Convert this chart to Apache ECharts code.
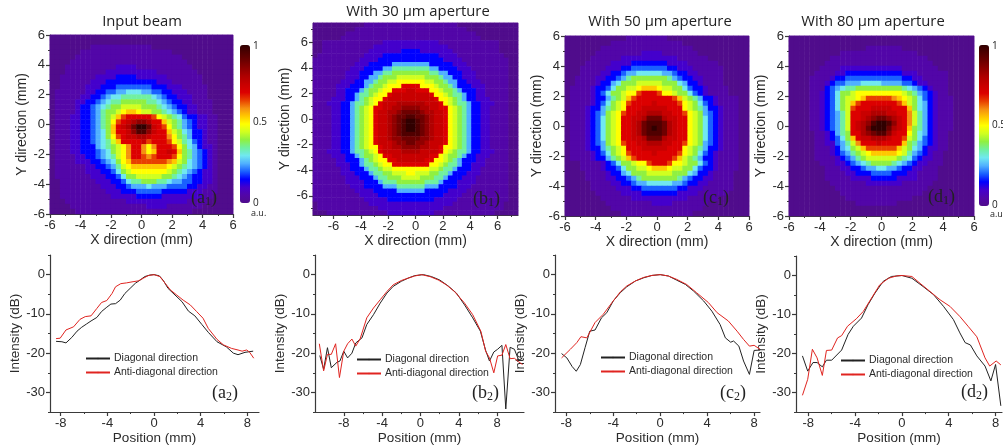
<!DOCTYPE html>
<html>
<head>
<meta charset="utf-8">
<title>Beam profiles</title>
<script src="https://cdn.jsdelivr.net/npm/echarts@6/dist/echarts.min.js"></script>
<style>
html, body { margin: 0; padding: 0; background: #fff; overflow: hidden; }
#main { width: 1003px; height: 446px; filter: blur(0.45px); }
</style>
</head>
<body>
<div id="main"></div>
<script>
// one character per cell, 0 = 0.00 ... k = 1.00 in steps of 0.05, rows from the top
const levels = '0123456789abcdefghijk';
const beamInput = [
  '000000 000000 000000 000000 000000 000000',
  '000000 000000 000000 000000 000000 000000',
  '000000 001111 111111 110000 000000 000000',
  '000000 111111 111111 111111 000000 000000',
  '000001 111111 111111 111111 110000 000000',
  '000011 111111 111111 111111 111000 000000',
  '000111 111111 122221 111111 111100 000000',
  '000111 111112 222222 222111 111110 000000',
  '001111 111222 233332 222221 111111 000000',
  '001111 112223 333333 333222 111111 000000',
  '001111 122233 344444 443332 221111 100000',
  '011111 122334 455666 554433 222111 100000',
  '011111 223345 667777 776543 322211 100000',
  '011112 233456 778888 877654 332211 110000',
  '011112 334567 889999 888765 433221 110000',
  '011112 334578 89abba 998876 543221 110000',
  '011122 334578 9bdeee eeda98 764332 211000',
  '011122 334578 adefgh hgeeb9 875432 211000',
  '011122 334578 befgik kifeda 875432 211000',
  '011122 334568 beefhj jhfeeb 986533 211000',
  '011122 334568 adeffg gfeeec a87533 211000',
  '011122 334567 9beeee fdeeed a97643 211000',
  '011122 333567 89acee caceee da8653 221000',
  '011122 333456 89acee cabeef eb8754 321000',
  '011112 233456 79acee dcdeee da8754 321000',
  '011112 223345 68abdd dddddc b98654 321000',
  '011111 122334 579abb bbbbba 987654 321000',
  '011111 122233 4689aa aaaaa9 876543 221000',
  '011111 112223 346889 999988 765433 221000',
  '001111 111222 334677 888776 554433 221000',
  '001111 111122 233455 565554 444332 211000',
  '001111 111112 223334 444433 333222 111000',
  '001111 111111 222223 333322 222222 110000',
  '000111 111111 111222 222222 222111 100000',
  '000011 111111 111111 122221 111111 000000',
  '000001 111111 111111 111111 111100 000000'
];
const beam30 = [
  '000000000001111111111 11111111110000000000000',
  '000000000111111111111 11111111111100000000000',
  '000000011111111111111 11111111111111000000000',
  '000000111111111111111 11111111111111100000000',
  '001111111111111222222 22222211111111111110000',
  '001111111111122222222 22222222111111111110000',
  '001111111111222222233 33222222211111111110000',
  '011111111112222333333 33333322221111111111000',
  '111111111122223333333 33333332222111111111100',
  '111111111222333335555 55553333322211111111100',
  '111111112223333557777 77775533332221111111100',
  '111111122233355778888 88887755333222111111100',
  '111111122233557888999 99988875533222111111100',
  '111111222335578899aaa aaa99887553322211111100',
  '1111122233357889aaaee eeaaa988753332221111100',
  '111112233357889aaeeef feeeaa98875333221111100',
  '11111223357789aaeffff ffffeaa9877533221111100',
  '1111222335789aaefffff fffffeaa987533222111100',
  '1112223357789aefffggg gggfffea987753322211100',
  '111122335789aeeffgghh hhggffeea98753322111100',
  '111122335789aeffgghii iihggffea98753322111100',
  '111122335789aeffghiij jiihgffea98753322111100',
  '111122335789aeffghijk kjihgffea98753322111100',
  '111122335789aeffghijk kjihgffea98753322111100',
  '111122335789aeffghijk kjihgffea98753322111100',
  '111122335789aeffghijj jjihgffea98753322111100',
  '111122335789aeffghhii iihhgffea98753322111100',
  '111122335789aefffghhi ihhgfffea98753322111100',
  '111122335789aaeffgghh hhggffeaa98753322111100',
  '1112223357789aeffffgg ggffffea987753322211100',
  '11112223357889aeeffff ffffeea9887533222111100',
  '11111223335789aaeefff fffeeaa9875333221111100',
  '111112223357789aaeeee eeeeaa98775332221111100',
  '11111122333577899aaaa aaaa9987753332211111100',
  '11111122233357788999a a9998877533322211111100',
  '111111122233357788899 99888775333222111111100',
  '111111122223335777888 88877753332222111111100',
  '111111112223333555777 77755533332221111111100',
  '111111111222233333555 55533333222211111111100',
  '111111111122223333333 33333332222111111111100',
  '111111111112222233333 33333222221111111111100',
  '011111111111222222222 22222222211111111111000',
  '011111111111112222222 22222221111111111111000',
  '000111111111111122222 22222111111111111100000'
];
const beam50 = [
  '000000 000000 111111 110000 000000 000000',
  '000000 000111 111111 111110 000000 000000',
  '000000 011111 111111 111111 100000 000000',
  '000000 111111 111222 211111 110000 000000',
  '000001 111112 222222 222211 111100 000000',
  '000011 111222 233333 332222 111111 000000',
  '000111 112223 344444 443322 211111 100000',
  '000111 122334 556666 655433 221111 100000',
  '001111 223345 788888 887543 322111 100000',
  '001111 233568 889999 988865 332111 100000',
  '011112 334688 99abbb a99886 433211 110000',
  '011112 346889 aadeee daa988 643211 110000',
  '011112 335789 bdeeee eeedb9 875332 111100',
  '011112 34689a deeeef eeeeda 986432 111100',
  '011123 35789a eeefff ffeeea 987533 211100',
  '011123 4589ad eeffgg gffeed a98543 211100',
  '011123 4689ae effgii igffee a98643 211100',
  '011123 4689ae efgijj jigfee a98643 211100',
  '011123 4689ae efgijk jigfee a98643 211100',
  '011123 4689ae efgijj jigfee a98643 211100',
  '011123 4689ae effgii igffee a98643 211100',
  '011123 4589ad eeffgg gffeed a98543 211100',
  '011123 35789a eeefff ffeeea 987533 211100',
  '011112 34689a deeeef eeeeda 986432 111100',
  '011112 335789 bdeeee eeedb9 875332 111100',
  '000111 123468 89aade eedaa9 886432 111100',
  '000111 123346 8899ab bba998 864332 111100',
  '000011 112335 688899 999888 653321 111000',
  '000011 112233 457888 888875 433221 111000',
  '000001 111223 345566 666554 332211 111000',
  '000001 111122 233444 444433 222111 111000',
  '000000 111112 222333 333322 221111 110000',
  '000000 011111 122222 222222 111111 000000',
  '000000 001111 111112 222111 111100 000000',
  '000000 000111 111111 111111 111000 000000',
  '000000 000001 111111 111111 100000 000000'
];
const beam80 = [
  '000000 000000 000000 000000 000000 000000',
  '000000 000000 000000 000000 000000 000000',
  '000000 000000 000111 111100 000000 000000',
  '000000 000011 111111 111111 100000 000000',
  '000000 001111 111111 111111 111000 000000',
  '000000 011111 111111 111111 111100 000000',
  '000000 111122 222222 222211 111110 000000',
  '000001 111223 333333 333322 211111 100000',
  '000011 112334 444444 444433 221111 100000',
  '000011 123445 556666 555544 322111 100000',
  '000011 134567 788888 888876 543211 100000',
  '000011 234688 9aaaaa aaaa98 754321 100000',
  '000011 234689 9abddd ddcba9 864321 110000',
  '000011 234689 bdeeee eeedb9 865321 110000',
  '000011 234689 deeeff ffeeeb 865321 110000',
  '000011 234579 eeffgg gffeec 975321 110000',
  '000011 234579 eefghi ihgfec 975321 110000',
  '000011 234579 efghjk kjhfec 975321 110000',
  '000011 234579 efgikk kigfeb 875321 110000',
  '000001 123578 eeghij jhfeea 865321 100000',
  '000001 123468 beffgg gfeed9 864321 100000',
  '000001 122457 9ceeef eeeeb8 754321 100000',
  '000001 112356 89bddd dddb98 653221 100000',
  '000001 112345 789abb bbba97 543211 000000',
  '000001 111234 578999 999876 432211 000000',
  '000000 111223 456788 887654 322111 000000',
  '000000 011122 334556 655433 221110 000000',
  '000000 011112 233344 443332 211110 000000',
  '000000 011111 222233 333222 211110 000000',
  '000000 001111 111222 222211 111100 000000',
  '000000 000111 111111 111111 111000 000000',
  '000000 000011 111111 111111 110000 000000',
  '000000 000001 111111 111111 000000 000000',
  '000000 000000 011111 111000 000000 000000',
  '000000 000000 000000 000000 000000 000000',
  '000000 000000 000000 000000 000000 000000'
];
const beamColors = ['#500c8c','#5206a8','#4400cc','#0000ff','#1a60ff','#50b0ff','#70e8f0','#70f0a0','#90f040','#d0ff20','#ffff00','#ffc800','#f59010','#e84000','#dc0000','#c80000','#b00000','#900000','#6e0000','#500000','#300000'];

const inputDiag = [[-8.4,-17],[-7.9,-17.1],[-7.55,-17.4],[-7.05,-16],[-6.6,-14.4],[-6.2,-13.4],[-5.8,-12.6],[-5.4,-11.8],[-4.9,-10.9],[-4.5,-9.4],[-4.05,-8.3],[-3.7,-7.5],[-3.3,-7.4],[-2.9,-6.5],[-2.5,-4.8],[-2.05,-3.5],[-1.6,-2.2],[-1.2,-1.4],[-0.8,-0.5],[-0.35,-0.1],[0,0],[0.45,-0.3],[0.8,-1.5],[1.2,-3.5],[1.8,-5.2],[2.4,-6.9],[2.95,-9.3],[3.5,-10.5],[4.1,-12.7],[4.65,-14.7],[5.4,-17.1],[6.2,-18.4],[6.8,-20],[7.2,-20.4],[7.8,-19.8],[8.5,-19.5]];
const inputAnti = [[-8.4,-16.3],[-8.05,-16.2],[-7.55,-14.1],[-6.9,-13.3],[-6.35,-11.4],[-5.9,-10.7],[-5.4,-10.5],[-4.9,-8.6],[-4.5,-7.1],[-4.05,-6.6],[-3.6,-4.8],[-3.3,-3.1],[-2.85,-2.3],[-2.35,-2.1],[-1.8,-1.8],[-1.35,-1.6],[-0.9,-0.9],[-0.5,-0.25],[0,0],[0.5,-0.5],[0.95,-2.2],[1.4,-3.9],[1.95,-5.2],[2.5,-6.5],[3.1,-7.7],[3.65,-9.4],[4.2,-11.1],[4.65,-13.7],[5.4,-16.5],[5.95,-17.9],[6.65,-18.8],[7.2,-19.2],[7.55,-19.5],[7.95,-19.2],[8.2,-19.8],[8.55,-21.3]];
const ap30Diag = [[-10.5,-20.6],[-10.1,-24.1],[-9.7,-18.6],[-9.3,-23.7],[-8.7,-22.3],[-8.4,-22],[-8,-19.5],[-7.6,-21.2],[-7.15,-20],[-6.75,-17.4],[-6.1,-16.1],[-5.6,-12.7],[-4.9,-10.2],[-4.2,-7.25],[-3.5,-4.7],[-2.85,-3],[-2,-1.7],[-1.3,-0.9],[-0.6,-0.25],[0.3,0],[1.15,-0.5],[2,-1.35],[2.9,-2.9],[3.75,-4.7],[4.6,-7.7],[5.45,-11],[6.25,-14.4],[6.8,-19.3],[7.2,-22],[7.65,-19.7],[8.05,-19],[8.5,-18],[8.9,-34.2],[9.35,-18.5],[9.8,-19],[10.25,-21.8],[10.65,-21.2]];
const ap30Anti = [[-10.55,-17.6],[-10.1,-24.5],[-9.7,-20.3],[-9.3,-20.3],[-8.85,-17.6],[-8.45,-26.2],[-8,-19.5],[-7.6,-17.6],[-7.15,-16.4],[-6.75,-18.2],[-6.3,-16.4],[-5.6,-11],[-4.9,-8.5],[-4.2,-6.4],[-3.5,-4.3],[-2.85,-2.6],[-2,-1.5],[-1.3,-0.9],[-0.6,-0.35],[0.1,0],[1,-0.5],[1.85,-1.35],[2.7,-2.6],[3.55,-4.3],[4.6,-7.25],[5.45,-10.2],[6.3,-14.4],[6.8,-19.5],[7.2,-21.2],[7.65,-25],[8.05,-20.7],[8.5,-20.5],[8.9,-17.8],[9.35,-21.4],[9.8,-21.3],[10.25,-22.2],[10.65,-22.9]];
const ap50Diag = [[-8.4,-20.1],[-7.95,-21.2],[-7.5,-23.4],[-7.15,-24.6],[-6.8,-22.9],[-6.4,-18.6],[-6,-14.4],[-5.55,-14.1],[-5,-11],[-4.55,-9.7],[-4,-6.7],[-3.4,-4.6],[-2.85,-3.1],[-2.1,-1.6],[-1.4,-0.8],[-0.7,-0.2],[0,0],[0.7,-0.35],[1.4,-1.4],[2.15,-2.5],[2.85,-4.2],[3.7,-6.7],[4.4,-9.3],[5.1,-12.7],[5.55,-16.1],[6,-17.2],[6.25,-16.9],[6.7,-18.2],[7.1,-22],[7.6,-25.4],[8,-19.3],[8.5,-19.2]];
const ap50Anti = [[-8.4,-21.2],[-7.65,-19],[-7.1,-17.3],[-6.75,-15.8],[-6.25,-16.1],[-5.55,-12.2],[-4.85,-10.1],[-4.1,-7.1],[-3.4,-4.4],[-2.85,-2.9],[-2.1,-1.6],[-1.4,-0.7],[-0.7,-0.2],[0,0],[0.7,-0.35],[1.4,-1.2],[2.25,-2.5],[3.1,-4.6],[4.1,-7.1],[4.85,-9.7],[5.8,-11.8],[6.55,-14.4],[7.1,-16.5],[7.6,-18.2],[8,-18],[8.5,-19]];
const ap80Diag = [[-8.5,-20.6],[-8.05,-24.5],[-7.6,-22.3],[-7.25,-22.3],[-6.8,-23.4],[-6.45,-21.7],[-6,-21.7],[-5.15,-19.1],[-4.6,-15.1],[-4.15,-13],[-3.45,-10.9],[-2.9,-7.5],[-2.3,-4.5],[-1.6,-1.5],[-0.9,-0.25],[0,0],[0.85,-0.7],[1.8,-2.8],[2.7,-4.9],[3.55,-7.9],[4.4,-11.3],[4.95,-14.7],[5.4,-17.2],[5.85,-17.8],[6.4,-20.6],[7.1,-23.2],[7.6,-27],[8,-22.8],[8.45,-33.4]];
const ap80Anti = [[-8.5,-30.7],[-8.05,-26.6],[-7.65,-18.9],[-7.25,-21.1],[-6.8,-25.6],[-6.45,-19.2],[-6,-19.1],[-5.5,-16],[-5.15,-15.4],[-4.65,-13],[-3.9,-11.1],[-3.3,-9.2],[-2.6,-5.8],[-1.9,-2.4],[-1.15,-0.7],[-0.45,-0.1],[0,0],[0.85,-0.25],[1.55,-2],[2.4,-4.1],[3.25,-6.2],[4.1,-7.9],[4.95,-10.5],[5.65,-13],[6.4,-15.7],[7.1,-21.1],[7.5,-23.2],[8.05,-21.9],[8.45,-22.9]];

const beamTicks = [-6, -4, -2, 0, 2, 4, 6];
const beamMinor = [-7, -5, -3, -1, 1, 3, 5, 7];
const posTicks = [-8, -4, 0, 4, 8];
const posMinor = [-6, -2, 2, 6];
const dbTicks = [-30, -20, -10, 0];
const dbMinor = [-35, -25, -15, -5, 5];

const LINE_DIAG = 'Diagonal direction';
const LINE_ANTI = 'Anti-diagonal direction';
const AXIS_COLOR = '#3a3a3a';
const TEXT_COLOR = '#2b2b2b';

var option = {
  animation: false,
  backgroundColor: '#fff',
  title: [], grid: [], xAxis: [], yAxis: [], series: [], legend: [], graphic: [],
  visualMap: [
    { type: 'continuous', min: 0, max: 1, seriesIndex: [0, 1, 2], left: 240, top: 45, itemWidth: 10, itemHeight: 158, calculable: false, text: ['', ''], inRange: { color: beamColors }, padding: 0 },
    { type: 'continuous', min: 0, max: 1, seriesIndex: [3], left: 979, top: 45, itemWidth: 10, itemHeight: 161, calculable: false, text: ['', ''], inRange: { color: beamColors }, padding: 0 }
  ]
};

// a value axis with labels on the major ticks, and a second one that only draws the short minor ticks
function addAxis(list, gridIndex, pos, min, max, major, minor, name, nameGap, nameSize) {
  var index = list.length;
  list.push({
    type: 'value', gridIndex: gridIndex, position: pos, min: min, max: max,
    name: name, nameLocation: 'middle', nameGap: nameGap,
    nameTextStyle: { fontFamily: 'Liberation Sans', fontSize: nameSize, color: TEXT_COLOR },
    splitLine: { show: false },
    axisLine: { onZero: false, lineStyle: { color: AXIS_COLOR, width: 1.2 } },
    axisTick: { length: 4, customValues: major, lineStyle: { color: AXIS_COLOR, width: 1.2 } },
    axisLabel: { customValues: major, margin: 5, fontFamily: 'Liberation Sans', fontSize: 13, color: TEXT_COLOR, hideOverlap: false }
  });
  list.push({
    type: 'value', gridIndex: gridIndex, position: pos, min: min, max: max,
    splitLine: { show: false },
    axisLine: { show: false, onZero: false },
    axisLabel: { show: false },
    axisTick: { length: 2, customValues: minor, lineStyle: { color: AXIS_COLOR, width: 1 } }
  });
  return index;
}

function addBeam(p) {
  var g = option.grid.length;
  var rows = p.rows.map(function (r) { return r.replace(/ /g, ''); });
  var cols = [], rowIds = [];
  rows[0].split('').forEach(function (_, i) { cols.push(i); });
  rows.forEach(function (_, i) { rowIds.push(i); });
  var cells = [];
  rows.forEach(function (row, r) {
    row.split('').forEach(function (ch, c) { cells.push([c, r, levels.indexOf(ch) / 20]); });
  });
  option.grid.push({ left: p.box[0], top: p.box[1], width: p.box[2], height: p.box[3], show: true, borderColor: '#9c6cc0', borderWidth: 1, backgroundColor: 'transparent' });
  var xi = option.xAxis.length, yi = option.yAxis.length;
  option.xAxis.push({ type: 'category', gridIndex: g, data: cols, show: false });
  option.yAxis.push({ type: 'category', gridIndex: g, data: rowIds, show: false, inverse: true });
  addAxis(option.xAxis, g, 'bottom', -p.range, p.range, beamTicks, beamMinor, 'X direction (mm)', 18, 14);
  addAxis(option.yAxis, g, 'left', -p.range, p.range, beamTicks, beamMinor, 'Y direction (mm)', p.yGap, 14);
  option.series.push({ type: 'heatmap', xAxisIndex: xi, yAxisIndex: yi, data: cells, progressive: 0, itemStyle: { borderWidth: 0 }, emphasis: { disabled: true } });
  option.title.push({ text: p.title, left: p.titleX, top: p.titleY, textAlign: 'center', padding: 0, textStyle: { fontFamily: 'Open Sans', fontSize: 14.8, fontWeight: 'normal', color: '#222' } });
  addTag(p.tag, p.tagSub, p.tagAt);
}

function addLines(p) {
  var g = option.grid.length;
  option.grid.push({ left: p.box[0], top: p.box[1], width: p.box[2], height: p.box[3], show: false });
  var xi = addAxis(option.xAxis, g, 'bottom', p.xr[0], p.xr[1], posTicks, posMinor, 'Position (mm)', 18, 13.5);
  var yi = addAxis(option.yAxis, g, 'left', -35, 5, dbTicks, dbMinor, 'Intensity (dB)', 25, 13.5);
  [[LINE_DIAG, p.diag, '#222222'], [LINE_ANTI, p.anti, '#e02420']].forEach(function (s) {
    option.series.push({ type: 'line', name: s[0], xAxisIndex: xi, yAxisIndex: yi, data: s[1], symbol: 'none', smooth: false, lineStyle: { color: s[2], width: 1 }, itemStyle: { color: s[2] }, z: s[2] === '#222222' ? 2 : 3 });
  });
  option.legend.push({ data: [LINE_DIAG, LINE_ANTI], orient: 'vertical', left: p.legendAt[0], top: p.legendAt[1], padding: 0, itemWidth: 24, itemHeight: 2, itemGap: 3, selectedMode: false, textStyle: { fontFamily: 'Liberation Sans', fontSize: 10.5, color: TEXT_COLOR, padding: [0, 0, 0, -1] } });
  addTag(p.tag, p.tagSub, p.tagAt);
}

function addTag(tag, sub, at) {
  option.graphic.push({
    type: 'text', left: at[0], top: at[1], z: 20,
    style: {
      text: '(' + tag + '{s|' + sub + '})',
      fontFamily: 'Liberation Serif', fontSize: 18, fill: '#222',
      rich: { s: { fontFamily: 'Liberation Serif', fontSize: 12, fill: '#222', verticalAlign: 'bottom', padding: [7, 0, 0, 0] } }
    }
  });
}

function addBarText(text, x, y, size) {
  option.graphic.push({ type: 'text', left: x, top: y, z: 20, style: { text: text, fontFamily: 'Open Sans', fontSize: size, fill: '#222' } });
}

addBeam({ rows: beamInput, range: 6, box: [50, 35, 183, 179], yGap: 17, title: 'Input beam', titleX: 142, titleY: 14, tag: 'a', tagSub: '1', tagAt: [191, 189] });
addBeam({ rows: beam30, range: 7.5, box: [313, 23, 205, 192], yGap: 19, title: 'With 30 µm aperture', titleX: 418, titleY: 4, tag: 'b', tagSub: '1', tagAt: [473, 190] });
addBeam({ rows: beam50, range: 6, box: [565, 36, 184, 180], yGap: 17, title: 'With 50 µm aperture', titleX: 660, titleY: 14, tag: 'c', tagSub: '1', tagAt: [703, 189] });
addBeam({ rows: beam80, range: 6, box: [789, 36, 185, 180], yGap: 17, title: 'With 80 µm aperture', titleX: 873, titleY: 14, tag: 'd', tagSub: '1', tagAt: [928, 188] });

addLines({ diag: inputDiag, anti: inputAnti, box: [50, 255, 209, 157], xr: [-8.92, 9], legendAt: [85, 353], tag: 'a', tagSub: '2', tagAt: [212, 384] });
addLines({ diag: ap30Diag, anti: ap30Anti, box: [315, 255, 209, 158], xr: [-11, 10.8], legendAt: [356, 354], tag: 'b', tagSub: '2', tagAt: [472, 384] });
addLines({ diag: ap50Diag, anti: ap50Anti, box: [555, 255, 205, 158], xr: [-8.96, 8.5], legendAt: [600, 352], tag: 'c', tagSub: '2', tagAt: [720, 384] });
addLines({ diag: ap80Diag, anti: ap80Anti, box: [796, 256, 206, 157], xr: [-9.05, 8.55], legendAt: [840, 355], tag: 'd', tagSub: '2', tagAt: [961, 383] });

addBarText('1', 253, 41, 10);
addBarText('0.5', 253, 117, 10);
addBarText('0', 253, 198, 10);
addBarText('a.u.', 251, 209, 9);
addBarText('1', 992, 41, 10);
addBarText('0.5', 992, 120, 10);
addBarText('0', 992, 200, 10);
addBarText('a.u', 990, 210, 9);

var myChart = echarts.init(document.getElementById('main'), null, { renderer: 'canvas' });
myChart.setOption(option);
</script>
</body>
</html>
